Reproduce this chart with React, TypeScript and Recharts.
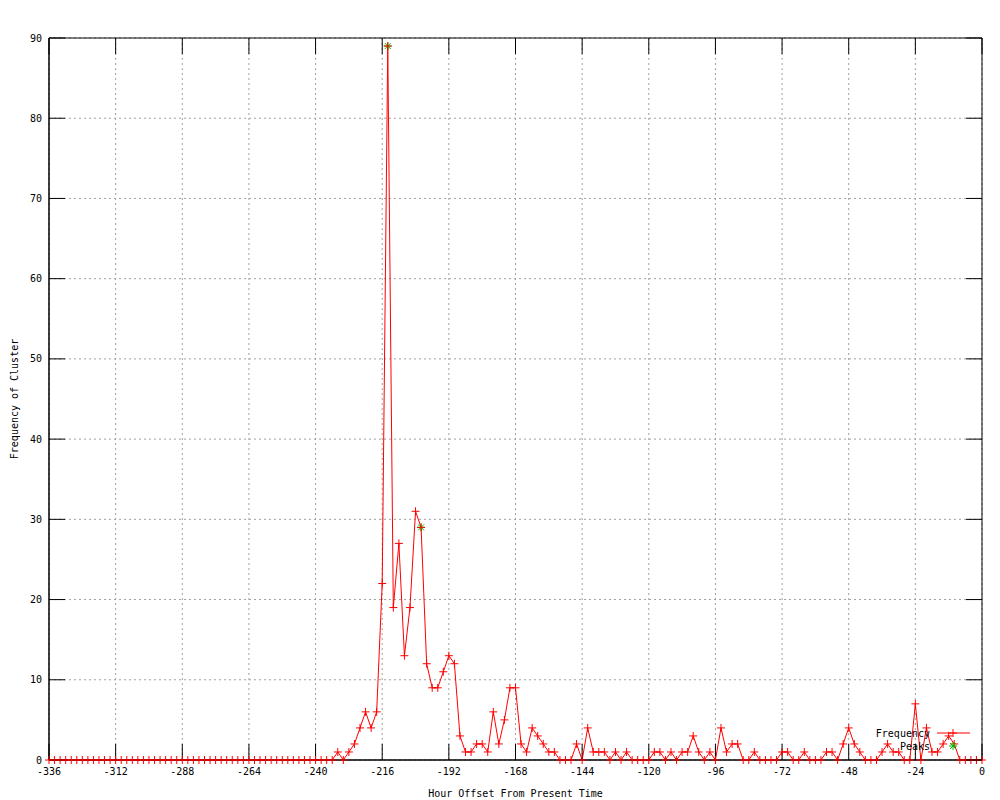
import React from 'react';
import {
  ComposedChart,
  Line,
  Scatter,
  XAxis,
  YAxis,
  CartesianGrid,
  Legend,
  ReferenceArea,
} from 'recharts';

// hourly buckets, every 2 hours from -336 to 0
const hourStart = -336;
const hourStep = 2;

const frequency = [
  // -336 .. -234
  0, 0, 0, 0, 0, 0, 0, 0, 0, 0, 0, 0,
  0, 0, 0, 0, 0, 0, 0, 0, 0, 0, 0, 0,
  0, 0, 0, 0, 0, 0, 0, 0, 0, 0, 0, 0,
  0, 0, 0, 0, 0, 0, 0, 0, 0, 0, 0, 0,
  0, 0, 0, 0,
  // -232 .. 0
  1, 0, 1, 2, 4, 6, 4, 6,
  22, 89, 19, 27, 13, 19, 31, 29,
  12, 9, 9, 11, 13, 12, 3, 1,
  1, 2, 2, 1, 6, 2, 5, 9,
  9, 2, 1, 4, 3, 2, 1, 1,
  0, 0, 0, 2, 0, 4, 1, 1,
  1, 0, 1, 0, 1, 0, 0, 0,
  0, 1, 1, 0, 1, 0, 1, 1,
  3, 1, 0, 1, 0, 4, 1, 2,
  2, 0, 0, 1, 0, 0, 0, 0,
  1, 1, 0, 0, 1, 0, 0, 0,
  1, 1, 0, 2, 4, 2, 1, 0,
  0, 0, 1, 2, 1, 1, 0, 0,
  7, 0, 4, 1, 1, 2, 3, 2,
  0, 0, 0, 0, 0,
];

const peakHours = [-214, -202];
const peakValues = [89, 29];

const xTicks = [-336, -312, -288, -264, -240, -216, -192, -168, -144, -120, -96, -72, -48, -24, 0];
const yTicks = [0, 10, 20, 30, 40, 50, 60, 70, 80, 90];

const data = frequency.map((v, i) => ({ hour: hourStart + i * hourStep, frequency: v }));
const peaks = peakHours.map((h, i) => ({ hour: h, peak: peakValues[i] }));

const RED = '#ff0000';
const GREEN = '#00c000';
const FONT = '"DejaVu Sans Mono", monospace';
const tickStyle = { fontSize: 10, fontFamily: FONT, fill: '#000' };

const MARGIN = { top: 38, right: 18, bottom: 0, left: 0 };
const CHART_W = 1000;
const TICK_LEN = 16;

// gnuplot mirrors its tics on the top and right border
const XTick = ({ x, y, payload }: any) => (
  <g>
    <line x1={x} x2={x} y1={MARGIN.top} y2={MARGIN.top + TICK_LEN} stroke="#000" />
    <text x={x} y={y} dy="0.71em" textAnchor="middle" {...tickStyle}>
      {payload.value}
    </text>
  </g>
);

const YTick = ({ x, y, payload }: any) => {
  const right = CHART_W - MARGIN.right;
  return (
    <g>
      <line x1={right - TICK_LEN} x2={right} y1={y} y2={y} stroke="#000" />
      <text x={x} y={y} dy="0.355em" textAnchor="end" {...tickStyle}>
        {payload.value}
      </text>
    </g>
  );
};

const Plus = ({ cx, cy, color = RED }: any) => (
  <path d={`M${cx - 4},${cy}h8M${cx},${cy - 4}v8`} stroke={color} strokeWidth={1} fill="none" />
);

const Star = ({ cx, cy, color = GREEN }: any) => (
  <path
    d={`M${cx - 4},${cy}h8M${cx},${cy - 4}v8M${cx - 3},${cy - 3}l6,6M${cx - 3},${cy + 3}l6,-6`}
    stroke={color}
    strokeWidth={1}
    fill="none"
  />
);

const renderLegend = (props: any) => {
  const items = props.payload || [];
  return (
    <svg width={130} height={30} style={{ display: 'block' }}>
      {items.map((item: any, i: number) => {
        const y = 8 + i * 13;
        const isLine = item.value === 'Frequency';
        return (
          <g key={item.value}>
            <text x={70} y={y + 4} textAnchor="end" fontSize={10} fontFamily={FONT} fill="#000">
              {item.value}
            </text>
            {isLine && <line x1={77} x2={110} y1={y} y2={y} stroke={RED} strokeWidth={1} />}
            {isLine ? <Plus cx={93} cy={y} /> : <Star cx={93} cy={y} />}
          </g>
        );
      })}
    </svg>
  );
};

export default function App() {
  return (
    <div style={{ position: 'absolute', left: 0, top: 0, width: 1000, height: 800, background: '#fff' }}>
      <ComposedChart width={CHART_W} height={800} data={data} margin={MARGIN}>
        <CartesianGrid stroke="#a0a0a0" strokeDasharray="2 3" />
        <XAxis
          dataKey="hour"
          type="number"
          domain={[-336, 0]}
          ticks={xTicks}
          height={40}
          tick={<XTick />}
          tickSize={-16}
          tickMargin={24}
          axisLine={{ stroke: '#000' }}
          tickLine={{ stroke: '#000' }}
          label={{ value: 'Hour Offset From Present Time', position: 'insideBottom', offset: 3, style: tickStyle }}
        />
        <XAxis
          xAxisId="top"
          dataKey="hour"
          orientation="top"
          type="number"
          domain={[-336, 0]}
          height={0}
          tick={false}
          tickLine={false}
          axisLine={false}
          label={{
            value: 'Frequency of Cluster 2276292 Over Time: i’m sure i’m going to see him in a classroom, at some point, on the other side of the desk',
            position: 'top',
            offset: 16,
            style: tickStyle,
          }}
        />
        <YAxis
          type="number"
          domain={[0, 90]}
          ticks={yTicks}
          width={49}
          tick={<YTick />}
          tickSize={-16}
          tickMargin={23}
          axisLine={{ stroke: '#000' }}
          tickLine={{ stroke: '#000' }}
          label={{
            value: 'Frequency of Cluster',
            angle: -90,
            position: 'insideLeft',
            offset: 14,
            style: { ...tickStyle, textAnchor: 'middle' },
          }}
        />
        <ReferenceArea x1={-336} x2={0} y1={0} y2={90} fill="none" stroke="#000" strokeWidth={1} />
        <Legend
          layout="horizontal"
          verticalAlign="middle"
          align="center"
          content={renderLegend}
          wrapperStyle={{ position: 'absolute', left: 860, top: 725, width: 130, height: 30 }}
        />
        <Scatter
          name="Peaks"
          data={peaks}
          dataKey="peak"
          fill={GREEN}
          isAnimationActive={false}
          shape={(p: any) => <Star cx={p.cx} cy={p.cy} />}
        />
        <Line
          name="Frequency"
          dataKey="frequency"
          type="linear"
          stroke={RED}
          strokeWidth={1}
          isAnimationActive={false}
          dot={(p: any) => <Plus key={`d-${p.index}`} cx={p.cx} cy={p.cy} />}
          activeDot={false}
        />
      </ComposedChart>
    </div>
  );
}
